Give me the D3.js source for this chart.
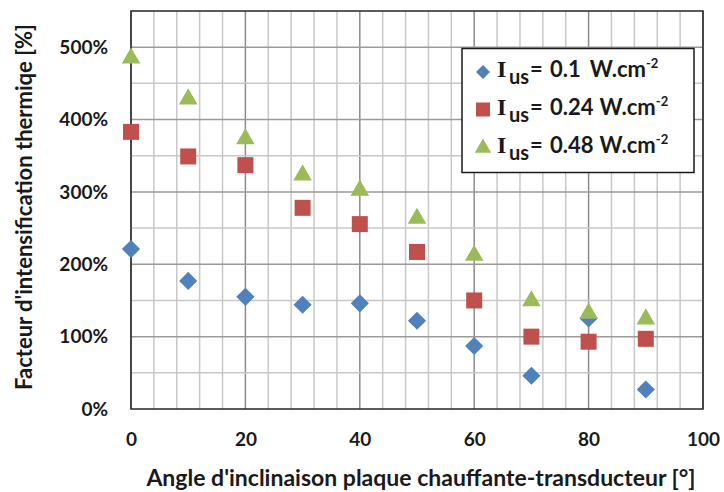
<!DOCTYPE html>
<html><head><meta charset="utf-8">
<script src="https://cdn.jsdelivr.net/npm/d3@7"></script>
<style>
body{margin:0;background:#fff;}
text{font-family:Lato,"Open Sans",sans-serif;font-weight:bold;fill:#1a1a1a;}
</style></head><body>
<svg id="c" width="724" height="492"></svg>
<script>
const angles = [0,10,20,30,40,50,60,70,80,90];
const seriesLabels = ["0.1","0.24","0.48"];
const s01  = [2.21,1.77,1.55,1.44,1.46,1.22,0.87,0.46,1.25,0.27];
const s024 = [3.83,3.49,3.37,2.78,2.555,2.17,1.50,1.00,0.93,0.97];
const s048 = [4.885,4.32,3.77,3.27,3.06,2.67,2.16,1.53,1.36,1.28];
const xTicks = [0,20,40,60,80,100];
const yTicks = [0,1,2,3,4,5];
const colors = ["#4F81BD","#C0504D","#9BBB59"];
const shapes = [d3.symbolDiamond2, d3.symbolSquare, d3.symbolTriangle];

const W=724,H=492, m={l:131,t:11,r:21,b:83};
const svg=d3.select("#c");
const x=d3.scaleLinear().domain([0,100]).range([m.l,W-m.r]);
const y=d3.scaleLinear().domain([0,5.5]).range([H-m.b,m.t]);
const g=svg.append("g");

// grid
g.selectAll(".vm").data(d3.range(0,101,4)).enter().append("line")
 .attr("x1",d=>x(d)).attr("x2",d=>x(d)).attr("y1",y(0)).attr("y2",y(5.5))
 .attr("stroke",d=>d%20===0?"#8c8c8c":"#c8c8c8").attr("stroke-width",1.5);
g.selectAll(".hm").data(d3.range(0.5,5.5,0.5)).enter().append("line")
 .attr("y1",d=>y(d)).attr("y2",d=>y(d)).attr("x1",x(0)).attr("x2",x(100))
 .attr("stroke",d=>Math.abs(d-Math.round(d))<1e-6?"#9a9a9a":"#c8c8c8").attr("stroke-width",1.5);

// frame
g.append("rect").attr("x",x(0)).attr("y",y(5.5)).attr("width",x(100)-x(0)).attr("height",y(0)-y(5.5))
 .attr("fill","none").attr("stroke","#262626").attr("stroke-width",1.5);

// axes
const xa=svg.append("g").attr("transform",`translate(0,${y(0)})`)
 .call(d3.axisBottom(x).tickValues(xTicks).tickSize(0).tickPadding(24));
xa.select(".domain").remove();
xa.selectAll("text").attr("font-size",19).attr("font-family","Lato").attr("font-weight","bold").attr("fill","#1a1a1a");
const ya=svg.append("g").attr("transform",`translate(${x(0)},0)`)
 .call(d3.axisLeft(y).tickValues(yTicks).tickSize(0).tickPadding(23).tickFormat(d=>d*100+"%"));
ya.select(".domain").remove();
ya.selectAll("text").attr("font-size",19).attr("font-family","Lato").attr("font-weight","bold").attr("fill","#1a1a1a");

// titles
svg.append("text").attr("x",421).attr("y",486).attr("text-anchor","middle").attr("font-size",23)
 .text("Angle d'inclinaison plaque chauffante-transducteur [°]");
svg.append("text").attr("transform","translate(32,207) rotate(-90)").attr("text-anchor","middle").attr("font-size",22)
 .text("Facteur d'intensification thermiqe [%]");

// points
const all=[s01,s024,s048];
const sizes=[210,256,150];
const triOff=Math.sqrt(4*150/Math.sqrt(3))*Math.sqrt(3)/2/6;
const offs=[0,0,triOff];
all.forEach((s,i)=>{
  svg.append("g").selectAll("path").data(s).enter().append("path")
   .attr("d",d3.symbol().type(shapes[i]).size(sizes[i]))
   .attr("transform",(d,j)=>`translate(${x(angles[j])},${y(d)+offs[i]})`)
   .attr("fill",colors[i]);
});

// legend
const lg=svg.append("g");
lg.append("rect").attr("x",462).attr("y",48.5).attr("width",232).attr("height",124)
 .attr("fill","#fff").attr("stroke","#1a1a1a").attr("stroke-width",1.5);
const rowsY=[72,109.5,148];
const lsizes=[125,196,115];
seriesLabels.forEach((lab,i)=>{
  lg.append("path").attr("d",d3.symbol().type(shapes[i]).size(lsizes[i]))
   .attr("transform",`translate(483,${rowsY[i]})`).attr("fill",colors[i]);
  const by=rowsY[i]+5;
  const t=lg.append("text").attr("x",497).attr("y",by).attr("font-size",22);
  t.append("tspan").attr("font-family","'Liberation Serif','DejaVu Serif',serif").attr("font-size",24).text("I");
  t.append("tspan").attr("x",509).attr("dy",7).attr("font-size",20).text("us");
  t.append("tspan").attr("x",530).attr("dy",-7).text("=");
  t.append("tspan").attr("x",550).text(lab);
  t.append("tspan").attr("dx",i===0?9:6).text("W.cm");
  t.append("tspan").attr("dy",-9).attr("font-size",13).text("-2");
});
</script></body></html>
